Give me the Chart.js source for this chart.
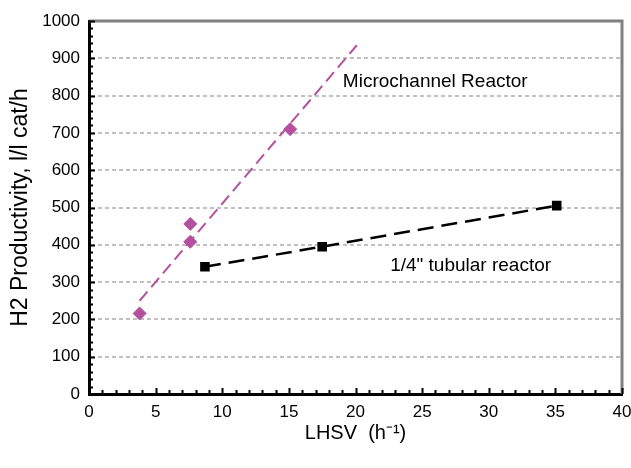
<!DOCTYPE html>
<html>
<head>
<meta charset="utf-8">
<script src="https://cdn.jsdelivr.net/npm/chart.js@4/dist/chart.umd.min.js"></script>
<style>
  html, body { margin: 0; padding: 0; background: #fff; }
  #wrap { width: 631px; height: 468px; }
</style>
</head>
<body>
<div id="wrap"><canvas id="grafico" width="631" height="468"></canvas></div>
<script>
// microchannel reactor points
const microLHSV = [3.8, 7.6, 7.6, 15.1];
const microProd = [216, 408, 456, 710];
// its linear trend line (end points)
const microTrendLHSV = [3.8, 20.1];
const microTrendProd = [250, 935];
// 1/4" tubular reactor
const tubeLHSV = [8.7, 17.5, 35.1];
const tubeProd = [341, 395, 505];

// axes
const xMin = 0, xMax = 40, xStep = 5, xMinor = 1;
const yMin = 0, yMax = 1000, yStep = 100, yMinor = 20;

// text labels inside the plot (data units)
const labelText = ["Microchannel Reactor", "1/4\" tubular reactor"];
const labelX = [19.05, 22.6];
const labelY = [836, 343];

const FONT = "'Liberation Sans', Arial, sans-serif";
const MAGENTA = "#B4509E";

function pts(xs, ys) {
  return xs.map((x, i) => ({ x: x, y: ys[i] }));
}

// minor ticks, top/right frame and the text labels
const extras = {
  id: "extras",
  afterDatasetsDraw(chart) {
    const ctx = chart.ctx;
    const a = chart.chartArea;
    const xs = chart.scales.x;
    const ys = chart.scales.y;
    ctx.save();

    // grey frame on top and right
    ctx.strokeStyle = "#808080";
    ctx.lineWidth = 3;
    ctx.beginPath();
    ctx.moveTo(a.left, a.top);
    ctx.lineTo(a.right, a.top);
    ctx.lineTo(a.right, a.bottom);
    ctx.stroke();

    // tick marks pointing inward
    ctx.strokeStyle = "#000";
    ctx.lineWidth = 2;
    ctx.beginPath();
    for (let v = yMin; v <= yMax; v += yMinor) {
      const py = Math.round(ys.getPixelForValue(v)) + 0.5;
      const len = v % yStep === 0 ? 6 : 4;
      ctx.moveTo(a.left, py);
      ctx.lineTo(a.left + len, py);
    }
    for (let v = xMin; v <= xMax; v += xMinor) {
      const px = Math.round(xs.getPixelForValue(v)) + 0.5;
      const len = v % xStep === 0 ? 6 : 4;
      ctx.moveTo(px, a.bottom);
      ctx.lineTo(px, a.bottom - len);
    }
    ctx.stroke();

    // labels
    ctx.fillStyle = "#000";
    ctx.font = "19px " + FONT;
    ctx.textAlign = "left";
    ctx.textBaseline = "middle";
    labelText.forEach((t, i) => {
      ctx.fillText(t, xs.getPixelForValue(labelX[i]), ys.getPixelForValue(labelY[i]));
    });
    ctx.restore();
  }
};

const ctx = document.getElementById("grafico").getContext("2d");
const grafico = new Chart(ctx, {
  type: "scatter",
  data: {
    datasets: [
      {
        label: "Microchannel trend",
        data: pts(microTrendLHSV, microTrendProd),
        showLine: true,
        borderColor: MAGENTA,
        borderWidth: 2,
        borderDash: [12, 6],
        pointRadius: 0,
        fill: false
      },
      {
        label: "Microchannel Reactor",
        data: pts(microLHSV, microProd),
        showLine: false,
        pointStyle: "rectRot",
        pointRadius: 6.5,
        backgroundColor: MAGENTA,
        borderColor: MAGENTA,
        borderWidth: 1
      },
      {
        label: "1/4\" tubular reactor",
        data: pts(tubeLHSV, tubeProd),
        showLine: true,
        borderColor: "#000",
        borderWidth: 2.5,
        borderDash: [16, 8],
        pointStyle: "rect",
        pointRadius: 5,
        backgroundColor: "#000",
        pointBorderColor: "#000",
        fill: false
      }
    ]
  },
  options: {
    responsive: false,
    animation: false,
    layout: { padding: { top: 21, right: 0, left: 0, bottom: 0 } },
    plugins: {
      legend: { display: false },
      tooltip: { enabled: false }
    },
    scales: {
      x: {
        type: "linear",
        min: xMin,
        max: xMax,
        afterFit(scale) {
          scale.height = 74;
          scale.paddingLeft = 0;
          scale.paddingRight = 9;
        },
        ticks: {
          stepSize: xStep,
          color: "#000",
          padding: 8,
          maxRotation: 0,
          font: { family: FONT, size: 17 },
          callback: (v) => String(v)
        },
        grid: { display: false, drawTicks: false },
        border: { display: true, color: "#000", width: 3 },
        title: {
          display: true,
          text: "LHSV  (h\u207B\u00B9)",
          color: "#000",
          padding: { top: 0, bottom: 23 },
          font: { family: FONT, size: 20 }
        }
      },
      y: {
        min: yMin,
        max: yMax,
        afterFit(scale) { scale.width = 89; },
        ticks: {
          stepSize: yStep,
          color: "#000",
          padding: 9,
          font: { family: FONT, size: 17 },
          callback: (v) => String(v)
        },
        grid: {
          drawTicks: false,
          lineWidth: 2,
          color: (c) => (c.tick && (c.tick.value === yMin || c.tick.value === yMax)) ? "rgba(0,0,0,0)" : "#C0C0C0"
        },
        border: { display: true, color: "#000", width: 3, dash: [4, 3] },
        title: {
          display: true,
          text: "H2 Productivity, l/l cat/h",
          color: "#000",
          padding: { top: 7, bottom: 0 },
          font: { family: FONT, size: 23 }
        }
      }
    }
  },
  plugins: [extras]
});
</script>
</body>
</html>
